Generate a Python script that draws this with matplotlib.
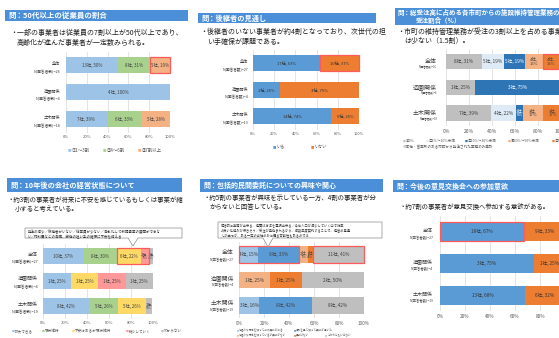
import matplotlib
matplotlib.use("Agg")
import matplotlib.pyplot as plt
from matplotlib.patches import Rectangle, Polygon

plt.rcParams['font.family'] = ['Noto Sans CJK JP', 'DejaVu Sans']

W, H = 559, 338
HEAD = "#4A8FD8"
RED = "#FF5A5A"

groups = ["全体", "造園関係", "土木関係"]

# 50代以上の従業員の割合
age_n = [26, 4, 18]
age_items = ["①1～3割", "②4～6割", "③7割以上"]
age_counts = [[13, 8, 5], [4, 0, 0], [7, 6, 5]]
age_pcts = [[50, 31, 19], [100, 0, 0], [39, 33, 28]]

# 後継者の見通し
succ_n = [27, 4, 19]
succ_items = ["いる", "いない"]
succ_counts = [[17, 10], [1, 3], [14, 5]]
succ_pcts = [[63, 37], [25, 75], [74, 26]]

# 総受注高に占める市町業務の割合
share_n = [26, 4, 18]
share_items = ["①0%", "②1%～10%未満", "③10%～30%未満", "④30%～50%未満", "⑤50%以上"]
share_counts = [[8, 5, 5, 4, 4], [1, 0, 3, 0, 0], [7, 4, 1, 3, 3]]
share_pcts = [[31, 19, 19, 15, 15], [25, 0, 75, 0, 0], [39, 22, 6, 17, 17]]

# 10年後の経営状態
future_n = [27, 4, 19]
future_items = ["拡大できる", "現状維持", "不安はあるが現状維持", "縮小していく", "わからない"]
future_counts = [[10, 8, 6, 2, 1], [1, 0, 1, 1, 1], [8, 5, 5, 0, 1]]
future_pcts = [[37, 30, 22, 7, 4], [25, 0, 25, 25, 25], [42, 26, 26, 0, 5]]

# 包括的民間委託への関心
ppp_n = [27, 4, 19]
ppp_items = ["仕組みや概念を知っており興味がある", "資料を見て知って興味が湧いた",
             "仕組みや概念を知っているが興味がない", "興味はない", "どちらともいえない"]
ppp_counts = [[4, 9, 2, 1, 11], [0, 0, 1, 1, 2], [3, 8, 0, 0, 8]]
ppp_pcts = [[15, 33, 7, 4, 41], [0, 0, 25, 25, 50], [16, 42, 0, 0, 42]]

# 意見交換会への参加意欲
meet_n = [27, 4, 19]
meet_counts = [[18, 9], [3, 1], [13, 6]]
meet_pcts = [[67, 33], [75, 25], [68, 32]]

fig = plt.figure(figsize=(W / 100, H / 100), dpi=100)


def fpos(x, y):
    return x / W, 1 - y / H


def header(x0, y0, x1, y1, lines, size=5.2, indent=0):
    fig.add_artist(Rectangle(fpos(x0, y1), (x1 - x0) / W, (y1 - y0) / H,
                             transform=fig.transFigure, facecolor=HEAD, edgecolor="none"))
    step = (y1 - y0) / len(lines)
    for k, line in enumerate(lines):
        fig.text(*fpos(x0 + 3 + (indent if k else 0), y0 + step * (k + 0.5)), line,
                 color="white", fontsize=size, fontweight="bold", va="center", ha="left")


def bullet(x, ys, lines, size=4.8):
    for k, (y, line) in enumerate(zip(ys, lines)):
        fig.text(*fpos(x + (0 if k == 0 else size * 1.39), y), ("・" if k == 0 else "") + line,
                 color="#1E1E1E", fontsize=size, va="center", ha="left")


def callout(x0, y0, x1, y1, tip, lines, size=2.7):
    tx, ty = tip
    pts = [(x0, y0), (x1, y0), (x1, y1), (tx + 5, y1), (tx, ty), (tx - 5, y1), (x0, y1)]
    fig.add_artist(Polygon([fpos(*p) for p in pts], closed=True, transform=fig.transFigure,
                           facecolor="white", edgecolor="#8C8C8C", lw=0.5))
    fig.text(*fpos(x0 + 3, y0 + 2), "\n".join(lines), fontsize=size, color="#333333",
             va="top", ha="left", linespacing=1.3)


def legend(xs, ys, items, colors, size=3.2):
    for x, y, s, c in zip(xs, ys, items, colors):
        fig.text(*fpos(x, y), "■", color=c, fontsize=size * 0.8, va="center", ha="left")
        fig.text(*fpos(x + size * 1.1, y), s, color="#595959", fontsize=size, va="center", ha="left")


def bar_panel(x0, x1, top, bottom, ns, counts, pcts, colors, txt_colors, height=0.6,
              wrap_below=10, lab_size=3.4, tick_size=3.0, name_size=3.0, n_size=2.5,
              name_dx=5, name_dy=-1, n_dy=7, boxes=()):
    ax = fig.add_axes([x0 / W, 1 - bottom / H, (x1 - x0) / W, (bottom - top) / H])
    for i, (cs, ps) in enumerate(zip(counts, pcts)):
        left = 0
        for j, (c, p) in enumerate(zip(cs, ps)):
            if c == 0:
                continue
            ax.barh(i, p, left=left, height=height, color=colors[j], edgecolor="none")
            if p < wrap_below:
                lab, fs = f"{c}社,\n{p}%", lab_size * 0.9
            else:
                lab, fs = f"{c}社, {p}%", lab_size
            ax.text(left + p / 2, i, lab, ha="center", va="center", fontsize=fs,
                    color=txt_colors[j], linespacing=1.05)
            left += p
    # highlighted segments
    for i, a, b in boxes:
        lo = sum(pcts[i][:a])
        hi = sum(pcts[i][:b])
        ax.add_patch(Rectangle((lo, i - height / 2), hi - lo, height, fill=False,
                               edgecolor=RED, lw=0.9, clip_on=False, zorder=5))
    for i, (g, n) in enumerate(zip(groups, ns)):
        ax.annotate(g, xy=(0, i), xycoords=("axes fraction", "data"),
                    xytext=(-name_dx * 0.72, -name_dy * 0.72), textcoords="offset points",
                    ha="right", va="center", fontsize=name_size, color="#404040")
        ax.annotate(f"N(回答者数)={n}", xy=(0, i), xycoords=("axes fraction", "data"),
                    xytext=(-name_dx * 0.72, -n_dy * 0.72), textcoords="offset points",
                    ha="right", va="center", fontsize=n_size, color="#404040")
    ax.set_xlim(0, 100)
    ax.set_ylim(len(groups) - 0.5, -0.5)
    ax.set_xticks(range(0, 101, 20))
    ax.set_xticklabels([f"{t}%" for t in range(0, 101, 20)])
    ax.set_yticks([])
    ax.tick_params(axis="x", length=0, pad=2, labelsize=tick_size, labelcolor="#595959")
    ax.xaxis.grid(True, color="#D9D9D9", lw=0.5)
    ax.set_axisbelow(True)
    for sp in ax.spines.values():
        sp.set_visible(False)
    ax.patch.set_alpha(0)
    return ax


# --- 50代以上の従業員の割合
c1 = ["#9DC3E6", "#A9D18E", "#F4B183"]
header(5, 10, 188, 21, ["問：50代以上の従業員の割合"], size=5.4)
bullet(10, [33, 43], ["一部の事業者は従業員の7割以上が50代以上であり、",
                      "高齢化が進んだ事業者が一定数みられる。"], size=5.0)
bar_panel(66, 170, 51.5, 132.5, age_n, age_counts, age_pcts, c1, ["#404040"] * 3,
          lab_size=3.2, tick_size=3.0, name_size=3.0, n_size=2.7, name_dx=6, boxes=[(0, 2, 3)])
legend([68, 103, 138], [150] * 3, age_items, c1, size=3.2)

# --- 後継者の見通し
c2 = ["#5B9BD5", "#ED7D31"]
header(198, 13, 376, 23, ["問：後継者の見通し"], size=5.2)
bullet(200, [32, 42], ["後継者のいない事業者が約4割となっており、次世代の担",
                       "い手確保が課題である。"], size=5.0)
bar_panel(253, 359, 50, 129.5, succ_n, succ_counts, succ_pcts, c2, ["#333333"] * 2,
          lab_size=3.0, tick_size=2.8, name_size=3.0, n_size=2.6, name_dx=5, boxes=[(0, 1, 2)])
legend([273, 311], [147] * 2, succ_items, c2, size=3.0)

# --- 総受注高に占める市町からの維持管理業務の受注割合
c3 = ["#BFBFBF", "#DEEBF7", "#2E75B6", "#F4B183", "#ED7D31"]
header(395, 8, 562, 25, ["問：総受注高に占める各市町からの施設維持管理業務の", "受注割合（%）"],
       size=4.7, indent=18)
bullet(397, [32, 41], ["市町の維持管理業務が受注の3割以上を占める事業者",
                       "は少ない（1.5割）。"], size=5.0)
bar_panel(446, 561, 48.6, 125.9, share_n, share_counts, share_pcts, c3,
          ["#404040", "#404040", "white", "#404040", "#404040"],
          wrap_below=18, lab_size=3.4, tick_size=3.6, name_size=4.3, n_size=1.8,
          name_dx=9, name_dy=0, n_dy=5, boxes=[(0, 4, 5)])
legend([403, 426, 465, 508, 552], [141] * 5, share_items, c3, size=2.6)
fig.text(*fpos(403, 147), "※本社・営業所のある市町から発注された業務のみ集計",
         fontsize=2.6, color="#595959", va="center", ha="left")

# --- 10年後の会社の経営状態
c4 = ["#9DC3E6", "#A9D18E", "#FFD966", "#FF9999", "#BFBFBF"]
header(7, 178, 182, 192, ["問：10年後の会社の経営状態について"], size=5.2)
bullet(8, [200, 209], ["約3割の事業者が将来に不安を感じているもしくは事業が縮",
                       "小すると考えている。"], size=4.6)
callout(25, 228, 182, 238, (133, 246),
        ["発注の減少／後継者がいない／従業員が少ない／高齢化して新規事業の展開ができな",
         "い／材料費などの高騰、労働の担い手の確保に不安を抱える"], size=2.5)
bar_panel(43, 153, 243.5, 318.5, future_n, future_counts, future_pcts, c4, ["#404040"] * 5,
          height=0.66, wrap_below=10, lab_size=3.1, tick_size=3.0, name_size=3.6, n_size=2.7,
          name_dx=5, name_dy=-2, n_dy=6, boxes=[(0, 2, 4)])
legend([12, 42, 72, 126, 161], [331] * 5, future_items, c4, size=2.6)

# --- 包括的民間委託についての興味や関心
c5 = ["#9DC3E6", "#5B9BD5", "#F4B183", "#ED7D31", "#BFBFBF"]
header(200, 179, 383, 192, ["問：包括的民間委託についての興味や関心"], size=5.0)
bullet(203, [198, 207], ["約5割の事業者が興味を示している一方、4割の事業者が分",
                         "からないと回答している。"], size=4.6)
callout(218, 222, 382, 238, (268, 247),
        ["包括的に業務が出来る、経費は方法を選択出来る／今後人口が減少していく中で効率",
         "の良い仕組みが行きそう／受注が見込まれるから、複数年度契約することで、経営の見通",
         "しが立つが、ある一定の会社のみに偏る可能性もあるのでは"], size=2.3)
bar_panel(239, 364, 242, 318, ppp_n, ppp_counts, ppp_pcts, c5, ["#404040"] * 5,
          height=0.65, wrap_below=10, lab_size=3.4, tick_size=3.3, name_size=4.2, n_size=2.4,
          name_dx=5, name_dy=-2, n_dy=5, boxes=[(0, 0, 2), (0, 4, 5)])
legend([237, 294, 237, 294, 325], [330, 330, 335, 335, 335], ppp_items, c5, size=1.9)

# --- 今後の意見交換会への参加意欲
c6 = ["#5B9BD5", "#ED7D31"]
header(393, 180, 562, 192, ["問：今後の意見交換会への参加意欲"], size=5.0)
bullet(400, [207], ["約7割の事業者が意見交換へ参加する意欲がある。"], size=4.6)
bar_panel(440, 565, 216, 311, meet_n, meet_counts, meet_pcts, c6, ["#333333"] * 2,
          height=0.61, lab_size=3.4, tick_size=3.4, name_size=3.6, n_size=2.4,
          name_dx=7, name_dy=-1, n_dy=6, boxes=[(0, 0, 1)])

fig.savefig("out.png", dpi=100)
